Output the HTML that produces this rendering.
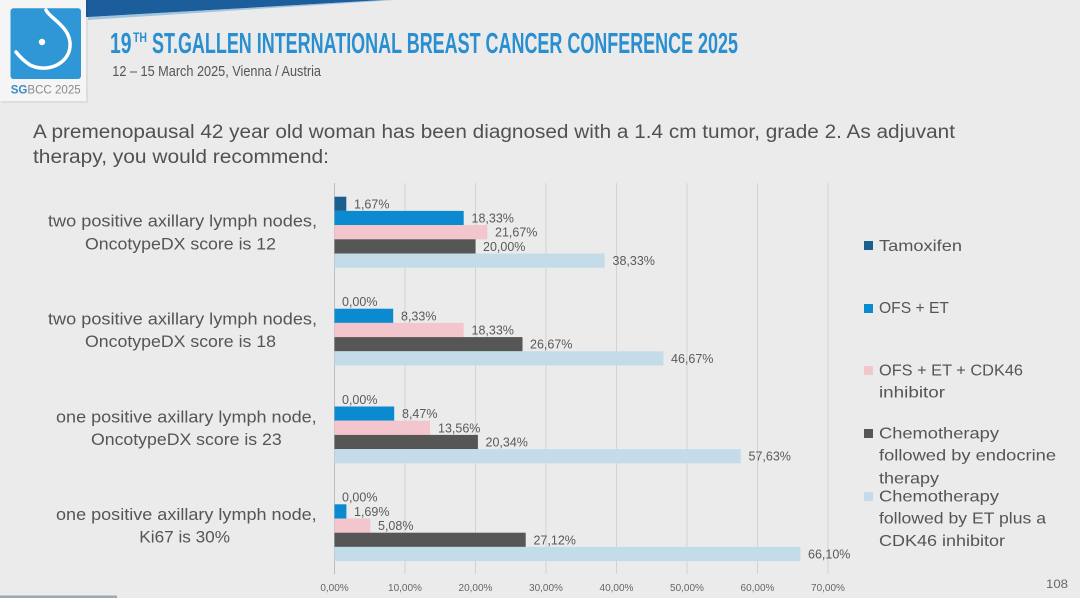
<!DOCTYPE html>
<html>
<head>
<meta charset="utf-8">
<style>
html,body{margin:0;padding:0;background:#ebebeb;}
svg{display:block;}
text{font-family:"Liberation Sans",sans-serif;}
</style>
</head>
<body>
<svg width="1080" height="598" viewBox="0 0 1080 598" xmlns="http://www.w3.org/2000/svg">
  <rect x="0" y="0" width="1080" height="598" fill="#ebebeb"/>

  <!-- top banner -->
  <polygon points="80,0 385,0 88,17 80,17" fill="#1c5e9b"/>
  <polygon points="88,17 385,0 395,0 88,20" fill="#5a9fd0" opacity="0.5"/>

  <!-- logo card -->
  <rect x="1" y="0" width="87" height="103" fill="#000" opacity="0.06"/>
  <rect x="0" y="0" width="86" height="101" fill="#f5f5f5"/>
  <rect x="10.5" y="8.3" width="70.5" height="70.7" rx="3" fill="#2f97d6"/>
  <path d="M46,10 C49,18 72,27 70,47 C68,65 46,73 30,65 C24,61 20,57 16,52" fill="none" stroke="#fff" stroke-width="3.5" stroke-linecap="round"/>
  <circle cx="42" cy="42" r="3.2" fill="#fff"/>
  <text x="10.7" y="93.5" font-size="12" textLength="70" lengthAdjust="spacingAndGlyphs"><tspan fill="#3a8bc6" font-weight="bold">SG</tspan><tspan fill="#8a8a8a">BCC 2025</tspan></text>

  <!-- title -->
  <text x="110" y="53" font-size="29" font-weight="bold" fill="#2a8fd0" textLength="21.5" lengthAdjust="spacingAndGlyphs">19</text>
  <text x="133" y="42" font-size="13.5" font-weight="bold" fill="#2a8fd0" textLength="14" lengthAdjust="spacingAndGlyphs">TH</text>
  <text x="152" y="53" font-size="29" font-weight="bold" fill="#2a8fd0" textLength="586" lengthAdjust="spacingAndGlyphs">ST.GALLEN INTERNATIONAL BREAST CANCER CONFERENCE 2025</text>
  <text x="112.3" y="76" font-size="15" fill="#555" textLength="208.7" lengthAdjust="spacingAndGlyphs">12 – 15 March 2025, Vienna / Austria</text>

  <!-- question -->
  <text x="33" y="138" font-size="19" fill="#515151" textLength="922" lengthAdjust="spacingAndGlyphs">A premenopausal 42 year old woman has been diagnosed with a 1.4 cm tumor, grade 2. As adjuvant</text>
  <text x="33" y="163" font-size="19" fill="#515151" textLength="296" lengthAdjust="spacingAndGlyphs">therapy, you would recommend:</text>

  <!-- gridlines -->
  <g stroke="#d3d3d3" stroke-width="1">
    <line x1="405" y1="183" x2="405" y2="574"/>
    <line x1="475.5" y1="183" x2="475.5" y2="574"/>
    <line x1="546" y1="183" x2="546" y2="574"/>
    <line x1="616.5" y1="183" x2="616.5" y2="574"/>
    <line x1="687" y1="183" x2="687" y2="574"/>
    <line x1="757.5" y1="183" x2="757.5" y2="574"/>
    <line x1="828" y1="183" x2="828" y2="574"/>
  </g>
  <line x1="334.5" y1="183" x2="334.5" y2="574" stroke="#bdbdbd" stroke-width="1"/>

  <!-- bars: x = 334.5 + v*7.05 ; bar h 14.2 ; group pitch 97.8 -->
  <!-- group 1 -->
  <rect x="334.5" y="196.7" width="11.8" height="14.2" fill="#1b5f8e"/>
  <rect x="334.5" y="210.9" width="129.2" height="14.2" fill="#0b8ad0"/>
  <rect x="334.5" y="225.1" width="152.8" height="14.2" fill="#f2c6cc"/>
  <rect x="334.5" y="239.3" width="141" height="14.2" fill="#565657"/>
  <rect x="334.5" y="253.5" width="270.2" height="14.2" fill="#c4dcea"/>
  <!-- group 2 -->
  <rect x="334.5" y="308.7" width="58.7" height="14.2" fill="#0b8ad0"/>
  <rect x="334.5" y="322.9" width="129.2" height="14.2" fill="#f2c6cc"/>
  <rect x="334.5" y="337.1" width="188" height="14.2" fill="#565657"/>
  <rect x="334.5" y="351.3" width="329" height="14.2" fill="#c4dcea"/>
  <!-- group 3 -->
  <rect x="334.5" y="406.5" width="59.7" height="14.2" fill="#0b8ad0"/>
  <rect x="334.5" y="420.7" width="95.6" height="14.2" fill="#f2c6cc"/>
  <rect x="334.5" y="434.9" width="143.4" height="14.2" fill="#565657"/>
  <rect x="334.5" y="449.1" width="406.3" height="14.2" fill="#c4dcea"/>
  <!-- group 4 -->
  <rect x="334.5" y="504.3" width="11.9" height="14.2" fill="#0b8ad0"/>
  <rect x="334.5" y="518.5" width="35.8" height="14.2" fill="#f2c6cc"/>
  <rect x="334.5" y="532.7" width="191.2" height="14.2" fill="#565657"/>
  <rect x="334.5" y="546.9" width="466" height="14.2" fill="#c4dcea"/>

  <!-- value labels -->
  <g font-size="12.5" fill="#5a5a5a">
    <text x="354" y="208.3">1,67%</text>
    <text x="471.5" y="222.5">18,33%</text>
    <text x="495" y="236.7">21,67%</text>
    <text x="483" y="250.9">20,00%</text>
    <text x="612.5" y="265.1">38,33%</text>

    <text x="342" y="306.1">0,00%</text>
    <text x="401" y="320.3">8,33%</text>
    <text x="471.5" y="334.5">18,33%</text>
    <text x="530" y="348.7">26,67%</text>
    <text x="671" y="362.9">46,67%</text>

    <text x="342" y="403.9">0,00%</text>
    <text x="402" y="418.1">8,47%</text>
    <text x="438" y="432.3">13,56%</text>
    <text x="485.5" y="446.5">20,34%</text>
    <text x="748.5" y="460.7">57,63%</text>

    <text x="342" y="501.7">0,00%</text>
    <text x="354" y="515.9">1,69%</text>
    <text x="378" y="530.1">5,08%</text>
    <text x="533.5" y="544.3">27,12%</text>
    <text x="808" y="558.5">66,10%</text>
  </g>

  <!-- x tick labels -->
  <g font-size="10" fill="#666" text-anchor="middle">
    <text x="334.5" y="591">0,00%</text>
    <text x="405" y="591">10,00%</text>
    <text x="475.5" y="591">20,00%</text>
    <text x="546" y="591">30,00%</text>
    <text x="616.5" y="591">40,00%</text>
    <text x="687" y="591">50,00%</text>
    <text x="757.5" y="591">60,00%</text>
    <text x="828" y="591">70,00%</text>
  </g>

  <!-- category labels -->
  <g font-size="17" fill="#555">
    <text x="48" y="226.7" textLength="269" lengthAdjust="spacingAndGlyphs">two positive axillary lymph nodes,</text>
    <text x="85" y="249.3" textLength="191" lengthAdjust="spacingAndGlyphs">OncotypeDX score is 12</text>
    <text x="48" y="324.5" textLength="269" lengthAdjust="spacingAndGlyphs">two positive axillary lymph nodes,</text>
    <text x="85" y="347.1" textLength="191" lengthAdjust="spacingAndGlyphs">OncotypeDX score is 18</text>
    <text x="56" y="422.3" textLength="260.7" lengthAdjust="spacingAndGlyphs">one positive axillary lymph node,</text>
    <text x="91" y="444.9" textLength="190.7" lengthAdjust="spacingAndGlyphs">OncotypeDX score is 23</text>
    <text x="56" y="520.1" textLength="260.7" lengthAdjust="spacingAndGlyphs">one positive axillary lymph node,</text>
    <text x="139.3" y="542.7" textLength="90.7" lengthAdjust="spacingAndGlyphs">Ki67 is 30%</text>
  </g>

  <!-- legend -->
  <rect x="864" y="241" width="9" height="9" fill="#1b5f8e"/>
  <rect x="864" y="304" width="9" height="9" fill="#0b8ad0"/>
  <rect x="864" y="366" width="9" height="9" fill="#f2c6cc"/>
  <rect x="864" y="429" width="9" height="9" fill="#565657"/>
  <rect x="864" y="492" width="9" height="9" fill="#c4dcea"/>
  <g font-size="16" fill="#555">
    <text x="879" y="251" textLength="83" lengthAdjust="spacingAndGlyphs">Tamoxifen</text>
    <text x="879" y="313" textLength="70" lengthAdjust="spacingAndGlyphs">OFS + ET</text>
    <text x="879" y="375.7" textLength="144" lengthAdjust="spacingAndGlyphs">OFS + ET + CDK46</text>
    <text x="879" y="397.7" textLength="66" lengthAdjust="spacingAndGlyphs">inhibitor</text>
    <text x="879" y="438.3" textLength="120" lengthAdjust="spacingAndGlyphs">Chemotherapy</text>
    <text x="879" y="460.7" textLength="177" lengthAdjust="spacingAndGlyphs">followed by endocrine</text>
    <text x="879" y="483.3" textLength="60" lengthAdjust="spacingAndGlyphs">therapy</text>
    <text x="879" y="501.7" textLength="120" lengthAdjust="spacingAndGlyphs">Chemotherapy</text>
    <text x="879" y="523.3" textLength="167" lengthAdjust="spacingAndGlyphs">followed by ET plus a</text>
    <text x="879" y="546" textLength="126" lengthAdjust="spacingAndGlyphs">CDK46 inhibitor</text>
  </g>

  <!-- page number -->
  <text x="1046" y="588" font-size="11.5" fill="#666" textLength="22" lengthAdjust="spacingAndGlyphs">108</text>

  <!-- bottom-left bar -->
  <rect x="0" y="595.5" width="117" height="2.5" fill="#9ea7b2"/>
</svg>
</body>
</html>
